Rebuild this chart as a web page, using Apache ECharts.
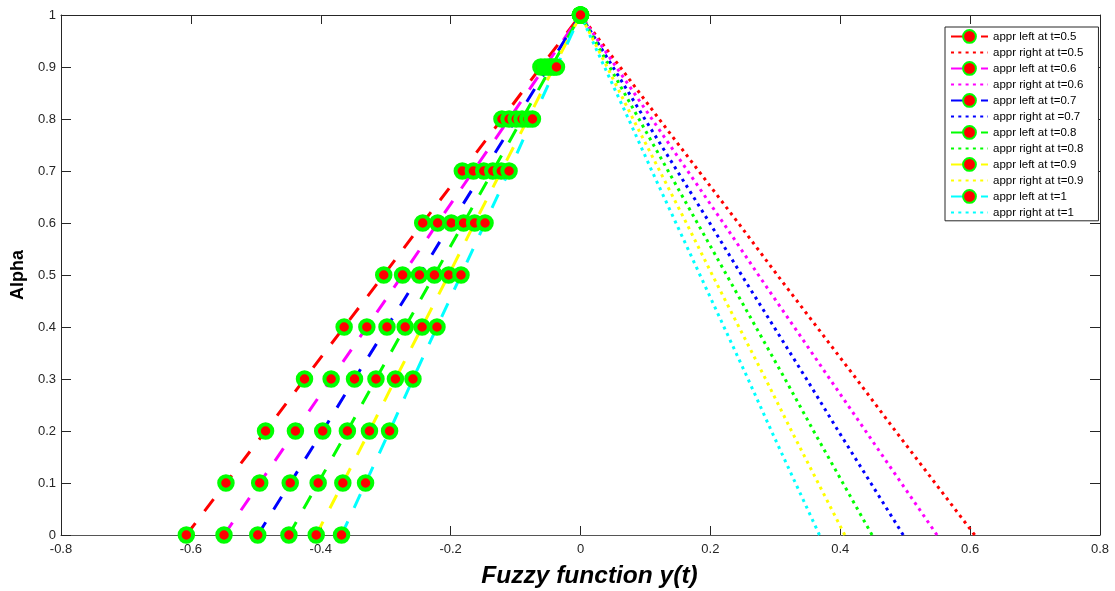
<!DOCTYPE html>
<html>
<head>
<meta charset="utf-8">
<script src="https://cdn.jsdelivr.net/npm/echarts@6/dist/echarts.min.js"></script>
<style>
  html, body { margin: 0; padding: 0; background: #fff; }
  #chart { width: 1115px; height: 591px; }
</style>
</head>
<body>
<div id="chart"></div>
<script>
// alpha levels (y axis)
var alpha = [0, 0.1, 0.2, 0.3, 0.4, 0.5, 0.6, 0.7, 0.8, 0.9, 1]

// approximate left branch at each t
var leftT05 = [-0.607, -0.546, -0.485, -0.425, -0.364, -0.303, -0.243, -0.182, -0.121, -0.061, 0]
var leftT06 = [-0.549, -0.494, -0.439, -0.384, -0.329, -0.274, -0.220, -0.165, -0.110, -0.055, 0]
var leftT07 = [-0.497, -0.447, -0.397, -0.348, -0.298, -0.248, -0.199, -0.149, -0.099, -0.050, 0]
var leftT08 = [-0.449, -0.404, -0.359, -0.315, -0.270, -0.225, -0.180, -0.135, -0.090, -0.045, 0]
var leftT09 = [-0.407, -0.366, -0.325, -0.285, -0.244, -0.203, -0.163, -0.122, -0.081, -0.041, 0]
var leftT10 = [-0.368, -0.331, -0.294, -0.258, -0.221, -0.184, -0.147, -0.110, -0.074, -0.037, 0]

// approximate right branch at each t
var rightT05 = [0.607, 0.546, 0.485, 0.425, 0.364, 0.303, 0.243, 0.182, 0.121, 0.061, 0]
var rightT06 = [0.549, 0.494, 0.439, 0.384, 0.329, 0.274, 0.220, 0.165, 0.110, 0.055, 0]
var rightT07 = [0.497, 0.447, 0.397, 0.348, 0.298, 0.248, 0.199, 0.149, 0.099, 0.050, 0]
var rightT08 = [0.449, 0.404, 0.359, 0.315, 0.270, 0.225, 0.180, 0.135, 0.090, 0.045, 0]
var rightT09 = [0.407, 0.366, 0.325, 0.285, 0.244, 0.203, 0.163, 0.122, 0.081, 0.041, 0]
var rightT10 = [0.368, 0.331, 0.294, 0.258, 0.221, 0.184, 0.147, 0.110, 0.074, 0.037, 0]

var seriesNames = [
  'appr left at t=0.5', 'appr right at t=0.5',
  'appr left at t=0.6', 'appr right at t=0.6',
  'appr left at t=0.7', 'appr right at =0.7',
  'appr left at t=0.8', 'appr right at t=0.8',
  'appr left at t=0.9', 'appr right at t=0.9',
  'appr left at t=1', 'appr right at t=1'
]
var seriesValues = [
  leftT05, rightT05, leftT06, rightT06, leftT07, rightT07,
  leftT08, rightT08, leftT09, rightT09, leftT10, rightT10
]
var lineColors = ['#ff0000', '#ff00ff', '#0000ff', '#00ff00', '#ffff00', '#00ffff']

var font = 'Liberation Sans, Arial, Helvetica, sans-serif'
var axisColor = '#262626'

function pairs (xs) {
  return xs.map(function (x, i) { return [x, alpha[i]] })
}

var series = []
var legendData = []
seriesValues.forEach(function (vals, i) {
  var color = lineColors[Math.floor(i / 2)]
  if (i % 2 === 0) {
    series.push({
      name: seriesNames[i],
      type: 'line',
      data: pairs(vals),
      symbol: 'circle',
      symbolSize: 13.5,
      itemStyle: { color: '#ff0000', borderColor: '#00ff00', borderWidth: 4 },
      lineStyle: { color: color, width: 3, type: [15, 15] }
    })
    legendData.push({ name: seriesNames[i] })
  } else {
    series.push({
      name: seriesNames[i],
      type: 'line',
      data: pairs(vals),
      symbol: 'none',
      itemStyle: { color: color, opacity: 0 },
      lineStyle: { color: color, width: 3, type: [3, 4.3], opacity: 1 }
    })
    // no marker in the legend for the dotted lines
    legendData.push({ name: seriesNames[i], itemStyle: { opacity: 0 } })
  }
})

var chart = echarts.init(document.getElementById('chart'))
var option = {
  animation: false,
  backgroundColor: '#fff',
  textStyle: { fontFamily: font },
  grid: { left: 61, right: 15, top: 15, bottom: 56, outerBoundsMode: 'none' },
  legend: {
    orient: 'vertical',
    left: 945,
    top: 27,
    data: legendData,
    backgroundColor: '#fff',
    borderColor: axisColor,
    borderWidth: 1,
    borderRadius: 0,
    padding: [2, 15, 2, 5],
    itemWidth: 37,
    itemHeight: 16,
    itemGap: 2.2,
    textStyle: { fontSize: 11.5, color: '#000', fontFamily: font }
  },
  xAxis: [
    {
      type: 'value',
      min: -0.8,
      max: 0.8,
      interval: 0.2,
      name: 'Fuzzy function y(t)',
      nameLocation: 'middle',
      nameGap: 29,
      nameTextStyle: { fontSize: 24.5, fontWeight: 'bold', fontStyle: 'italic', color: '#000', fontFamily: font, padding: [0, 0, 0, 18] },
      axisLine: { show: true, onZero: false, lineStyle: { color: '#555', width: 1 } },
      axisTick: { show: true, inside: true, length: 9, lineStyle: { color: axisColor } },
      axisLabel: { fontSize: 13, color: axisColor, margin: 8 },
      splitLine: { show: false }
    },
    {
      type: 'value',
      position: 'top',
      min: -0.8,
      max: 0.8,
      interval: 0.2,
      axisLine: { show: true, onZero: false, lineStyle: { color: axisColor, width: 1 } },
      axisTick: { show: true, inside: true, length: 9, lineStyle: { color: axisColor } },
      axisLabel: { show: false },
      splitLine: { show: false }
    }
  ],
  yAxis: [
    {
      type: 'value',
      min: 0,
      max: 1,
      interval: 0.1,
      name: 'Alpha',
      nameLocation: 'middle',
      nameGap: 21,
      nameRotate: 90,
      nameTextStyle: { fontSize: 18, fontWeight: 'bold', color: '#000', fontFamily: font },
      axisLine: { show: true, onZero: false, lineStyle: { color: axisColor, width: 1 } },
      axisTick: { show: true, inside: true, length: 10, lineStyle: { color: axisColor } },
      axisLabel: { fontSize: 13, color: axisColor, margin: 5 },
      splitLine: { show: false }
    },
    {
      type: 'value',
      position: 'right',
      min: 0,
      max: 1,
      interval: 0.1,
      axisLine: { show: true, onZero: false, lineStyle: { color: axisColor, width: 1 } },
      axisTick: { show: true, inside: true, length: 10, lineStyle: { color: axisColor } },
      axisLabel: { show: false },
      splitLine: { show: false }
    }
  ],
  series: series
}
chart.setOption(option)
</script>
</body>
</html>
